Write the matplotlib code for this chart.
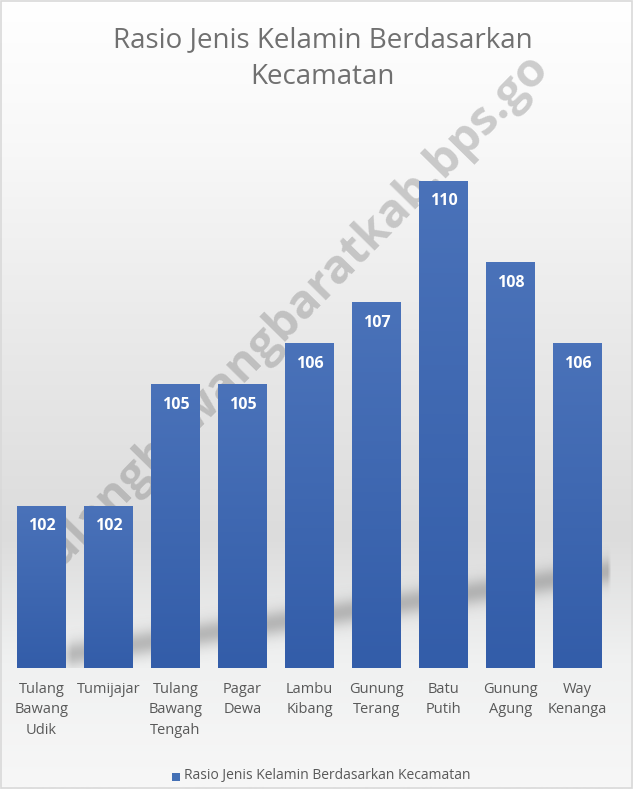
import numpy as np
import matplotlib
matplotlib.use("Agg")
import matplotlib.pyplot as plt
from matplotlib.colors import LinearSegmentedColormap
from matplotlib.patches import Rectangle

# Data
kecamatan = ["Tulang\nBawang\nUdik", "Tumijajar", "Tulang\nBawang\nTengah", "Pagar\nDewa",
             "Lambu\nKibang", "Gunung\nTerang", "Batu\nPutih", "Gunung\nAgung", "Way\nKenanga"]
rasio = [102, 102, 105, 105, 106, 107, 110, 108, 106]
title = "Rasio Jenis Kelamin Berdasarkan\nKecamatan"
series_name = "Rasio Jenis Kelamin Berdasarkan Kecamatan"
watermark = "tulangbawangbaratkab.bps.go"

FONT = "Open Sans"
W, H = 633, 789
fig = plt.figure(figsize=(W / 100, H / 100), dpi=100)

# Background layer in pixel coordinates (origin top-left)
bg = fig.add_axes([0, 0, 1, 1], zorder=-10)
bg.set_xlim(0, W)
bg.set_ylim(H, 0)
bg.axis("off")
bg_cmap = LinearSegmentedColormap.from_list(
    "bg", [(0.0, "#ffffff"), (0.18, "#f8f8f8"), (0.45, "#e8e8e8"),
           (0.68, "#dcdcdc"), (0.84, "#f0f1f1"), (1.0, "#f7f7f7")])
grad = np.linspace(0, 1, 400).reshape(-1, 1)
bg.imshow(grad, cmap=bg_cmap, aspect="auto", extent=[0, W, H, 0], zorder=0)
bg.add_patch(Rectangle((1, 1), W - 2, H - 2, fill=False, edgecolor="#d9d9d9", lw=1.2, zorder=1))

# Soft diagonal shadow behind the bars
sx0, sx1, sy0, sy1 = 55, 614, 530, 668
xx, yy = np.meshgrid(np.linspace(sx0, sx1, 300), np.linspace(sy0, sy1, 120))
centre = 655 - 0.155 * (xx - 69)
d = yy - centre
alpha = 0.36 * np.exp(-(d / 13.0) ** 2)
alpha *= np.clip((xx - 58) / 14, 0, 1) * np.clip((612 - xx) / 3, 0, 1)
shadow = np.zeros(xx.shape + (4,))
shadow[..., :3] = 0.35
shadow[..., 3] = alpha
bg.imshow(shadow, extent=[sx0, sx1, sy1, sy0], aspect="auto", zorder=2, interpolation="bilinear")

# Watermark behind the bars
bg.text(290, 318, watermark, ha="center", va="center", rotation=45.5,
        rotation_mode="anchor", family=FONT, fontsize=34, fontweight="bold",
        color="#6e6e6e", alpha=0.33, zorder=3)

ax = fig.add_axes([8 / W, 121 / H, 603 / W, 528 / H])
ax.set_facecolor("none")
x = np.arange(len(rasio))
bars = ax.bar(x, rasio, width=0.73, color="#3f69b2", zorder=2)
ax.set_xlim(-0.5, len(rasio) - 0.5)
ax.set_ylim(98, 111)

# Gradient fill on each bar
bar_cmap = LinearSegmentedColormap.from_list("bar", ["#335da9", "#4a72b9"])
for b in bars:
    x0, w = b.get_x(), b.get_width()
    y0, h = b.get_y(), b.get_height()
    im = ax.imshow(np.linspace(0, 1, 100).reshape(-1, 1), cmap=bar_cmap, aspect="auto",
                   extent=[x0, x0 + w, 98, y0 + h], origin="lower", zorder=3)
    im.set_clip_path(b)

for xi, v in zip(x, rasio):
    ax.annotate(f"{v}", (xi, v), xytext=(0, -15), textcoords="offset points",
                ha="center", va="center", color="white", fontsize=11.5, fontweight="bold",
                family=FONT, zorder=5)

ax.set_xticks(x)
ax.set_xticklabels(kecamatan, family=FONT, fontsize=10.5, color="#595959", linespacing=1.5)
ax.tick_params(axis="x", length=0, pad=10)
ax.set_yticks([])
for s in ax.spines.values():
    s.set_visible(False)

fig.text(0.51, 1 - 58.5 / H, title, ha="center", va="center", family=FONT, fontsize=20,
         color="#707070", linespacing=1.4)

# Legend
fig.patches.append(Rectangle((172 / W, 1 - 781 / H), 8 / W, 8 / H, transform=fig.transFigure,
                             facecolor="#4470b5", edgecolor="none"))
fig.text(184 / W, 1 - 776 / H, series_name, ha="left", va="center", family=FONT,
         fontsize=10, color="#595959")

fig.savefig("out.png", dpi=100)
